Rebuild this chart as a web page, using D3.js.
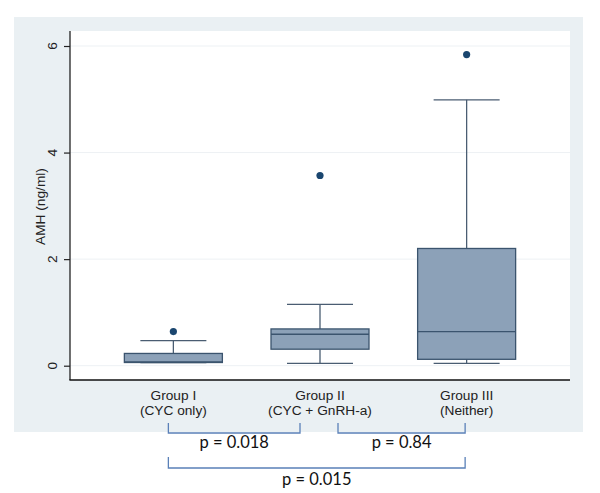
<!DOCTYPE html>
<html><head><meta charset="utf-8">
<script src="https://cdn.jsdelivr.net/npm/d3@7"></script>
<style>html,body{margin:0;padding:0;background:#fff;}svg{display:block;}</style>
</head><body>
<script>
const groups = ["Group I", "Group II", "Group III"];
const subLabels = ["(CYC only)", "(CYC + GnRH-a)", "(Neither)"];
const whiskLo = [0.06, 0.045, 0.045];
const q1 = [0.06, 0.31, 0.12];
const medians = [0.07, 0.59, 0.64];
const q3 = [0.23, 0.69, 2.20];
const whiskHi = [0.47, 1.15, 4.99];
const outliers = [[0.64], [3.57], [5.84]];
const yTicks = [0, 2, 4, 6];
const comparisons = [
  {from: 0, to: 1, p: "p = 0.018", level: 0},
  {from: 1, to: 2, p: "p = 0.84", level: 0},
  {from: 0, to: 2, p: "p = 0.015", level: 1}
];

const W = 600, H = 493;
const AX_FONT = "'Liberation Sans', Arial, Helvetica, sans-serif";
const svg = d3.select("body").append("svg").attr("width", W).attr("height", H);

// outer graph region
svg.append("rect").attr("x", 14).attr("y", 17).attr("width", 569).attr("height", 415).attr("fill", "#eaf0f3");
// plot region
const pl = 70, pr = 570, pt = 31, pb = 380;
svg.append("rect").attr("x", pl).attr("y", pt).attr("width", pr - pl).attr("height", pb - pt).attr("fill", "#fff");

const y = d3.scaleLinear().domain([0, 6]).range([365.7, 46]);
const x = d3.scalePoint().domain(groups).range([pl, pr]).padding(0.705);

// gridlines
svg.append("g").selectAll("line").data(yTicks).join("line")
  .attr("x1", pl).attr("x2", pr).attr("y1", d => y(d)).attr("y2", d => y(d))
  .attr("stroke", "#edf1f4").attr("stroke-width", 1);

// y axis (ticks only; labels drawn rotated below)
const yAxis = d3.axisLeft(y).tickValues(yTicks).tickSize(6).tickFormat("");
const ga = svg.append("g").attr("transform", `translate(${pl},0)`).call(yAxis);
ga.select(".domain").attr("d", `M0,${pt}V${pb}`).attr("stroke", "#222").attr("stroke-width", 1.3);
ga.selectAll(".tick line").attr("stroke", "#222").attr("stroke-width", 1.2);
ga.selectAll(".tick text").remove();

svg.append("g").selectAll("text").data(yTicks).join("text")
  .attr("transform", d => `translate(56.5,${y(d)}) rotate(-90)`)
  .attr("text-anchor", "middle")
  .attr("font-family", AX_FONT).attr("font-size", 13.7).attr("fill", "#222")
  .text(d3.format("d"));

// x axis line
svg.append("line").attr("x1", pl - 0.6).attr("x2", pr).attr("y1", pb).attr("y2", pb).attr("stroke", "#111").attr("stroke-width", 1.4);

// y label
svg.append("text").attr("transform", `translate(44.5,${(pt + pb) / 2 + 1}) rotate(-90)`)
  .attr("text-anchor", "middle").attr("font-family", AX_FONT)
  .attr("font-size", 13.7).attr("fill", "#222").text("AMH (ng/ml)");

// x labels
const xl = svg.append("g").selectAll("g").data(groups).join("g");
xl.append("text").attr("x", d => x(d)).attr("y", 400).attr("text-anchor", "middle")
  .attr("font-family", AX_FONT).attr("font-size", 13.7).attr("fill", "#222").text(d => d);
xl.append("text").attr("x", d => x(d)).attr("y", 415).attr("text-anchor", "middle")
  .attr("font-family", AX_FONT).attr("font-size", 13.7).attr("fill", "#222").text((d, i) => subLabels[i]);

// boxes
const boxW = 98, capW = 66;
const stroke = "#3b546e", fill = "#8ca1b8", wcol = "#4a5d72";
const bx = svg.append("g").selectAll("g").data(groups).join("g");
bx.append("line").attr("x1", d => x(d)).attr("x2", d => x(d))
  .attr("y1", (d, i) => y(q3[i])).attr("y2", (d, i) => y(whiskHi[i])).attr("stroke", wcol).attr("stroke-width", 1.3);
bx.append("line").attr("x1", d => x(d)).attr("x2", d => x(d))
  .attr("y1", (d, i) => y(q1[i])).attr("y2", (d, i) => y(whiskLo[i])).attr("stroke", wcol).attr("stroke-width", 1.3);
bx.append("line").attr("x1", d => x(d) - capW / 2).attr("x2", d => x(d) + capW / 2)
  .attr("y1", (d, i) => y(whiskHi[i])).attr("y2", (d, i) => y(whiskHi[i])).attr("stroke", wcol).attr("stroke-width", 1.3);
bx.append("line").attr("x1", d => x(d) - capW / 2).attr("x2", d => x(d) + capW / 2)
  .attr("y1", (d, i) => y(whiskLo[i])).attr("y2", (d, i) => y(whiskLo[i])).attr("stroke", wcol).attr("stroke-width", 1.3);
bx.append("rect").attr("x", d => x(d) - boxW / 2).attr("width", boxW)
  .attr("y", (d, i) => y(q3[i])).attr("height", (d, i) => y(q1[i]) - y(q3[i]))
  .attr("fill", fill).attr("stroke", stroke).attr("stroke-width", 1.3);
bx.append("line").attr("x1", d => x(d) - boxW / 2).attr("x2", d => x(d) + boxW / 2)
  .attr("y1", (d, i) => y(medians[i])).attr("y2", (d, i) => y(medians[i])).attr("stroke", stroke).attr("stroke-width", 1.4);
bx.each(function(d, i){
  d3.select(this).selectAll("circle").data(outliers[i]).join("circle")
    .attr("cx", x(d)).attr("cy", v => y(v)).attr("r", 3.6).attr("fill", "#1a466f");
});

// comparison brackets
const bracketColor = "#5a80b8";
const ends = c => [x(groups[c.from]) + (c.from === 1 ? 18 : -5), x(groups[c.to]) + (c.to === 1 ? -20 : -1.5)];
const levels = [{top: 423, base: 433, text: 448}, {top: 457, base: 468, text: 485}];
const br = svg.append("g").selectAll("g").data(comparisons).join("g");
br.append("path").attr("fill", "none").attr("stroke", bracketColor).attr("stroke-width", 1.3)
  .attr("d", c => { const [a, b] = ends(c), L = levels[c.level]; return `M${a},${L.top}V${L.base}H${b}V${L.top}`; });
br.append("text").attr("x", c => d3.mean(ends(c))).attr("y", c => levels[c.level].text)
  .attr("text-anchor", "middle").attr("font-family", "Lato, 'Open Sans', sans-serif").attr("font-size", 16.5)
  .attr("fill", "#111").text(c => c.p);
</script>
</body></html>
